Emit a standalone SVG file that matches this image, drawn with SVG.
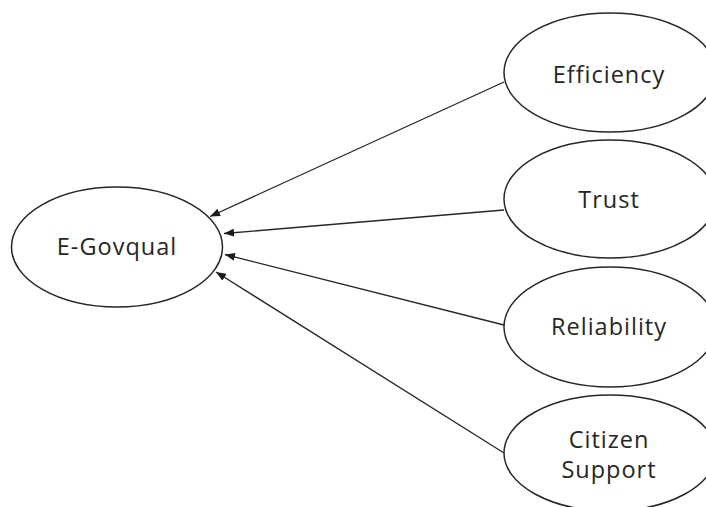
<svg xmlns="http://www.w3.org/2000/svg" width="706" height="507" viewBox="0 0 706 507">
<defs>
<style>
.node ellipse{fill:#fff;stroke:#262626;stroke-width:1.5}
.node text{font-family:"Open Sans","Liberation Sans",sans-serif;font-size:23.5px;letter-spacing:1px;fill:#262626;text-anchor:middle}
.conn line{stroke:#262626;stroke-width:1.3}
</style>
<marker id="arr" viewBox="0 0 10 8" refX="10" refY="4" markerWidth="10" markerHeight="8" markerUnits="userSpaceOnUse" orient="auto">
<path d="M0,0 L10,4 L0,8 Z" fill="#1a1a1a"/>
</marker>
</defs>
<rect width="706" height="507" fill="#fff"/>
<g id="egovqual" class="node">
<ellipse cx="117" cy="247" rx="105.5" ry="60"/>
<text x="117" y="255">E-Govqual</text>
</g>
<g id="efficiency" class="node">
<ellipse cx="610" cy="72.5" rx="106" ry="59.5"/>
<text x="609" y="83">Efficiency</text>
</g>
<g id="trust" class="node">
<ellipse cx="610" cy="199" rx="106" ry="59"/>
<text x="609" y="208">Trust</text>
</g>
<g id="reliability" class="node">
<ellipse cx="610" cy="327" rx="106" ry="60"/>
<text x="609" y="335">Reliability</text>
</g>
<g id="citizen" class="node">
<ellipse cx="610" cy="453" rx="106" ry="58"/>
<text x="609" y="448">Citizen</text>
<text x="609" y="478">Support</text>
</g>
<g id="connectors" class="conn">
<line x1="504" y1="82" x2="210" y2="216.5" marker-end="url(#arr)"/>
<line x1="504" y1="210" x2="224" y2="233.5" marker-end="url(#arr)"/>
<line x1="504" y1="325" x2="225" y2="254.5" marker-end="url(#arr)"/>
<line x1="504" y1="453" x2="216" y2="272" marker-end="url(#arr)"/>
</g>
</svg>
